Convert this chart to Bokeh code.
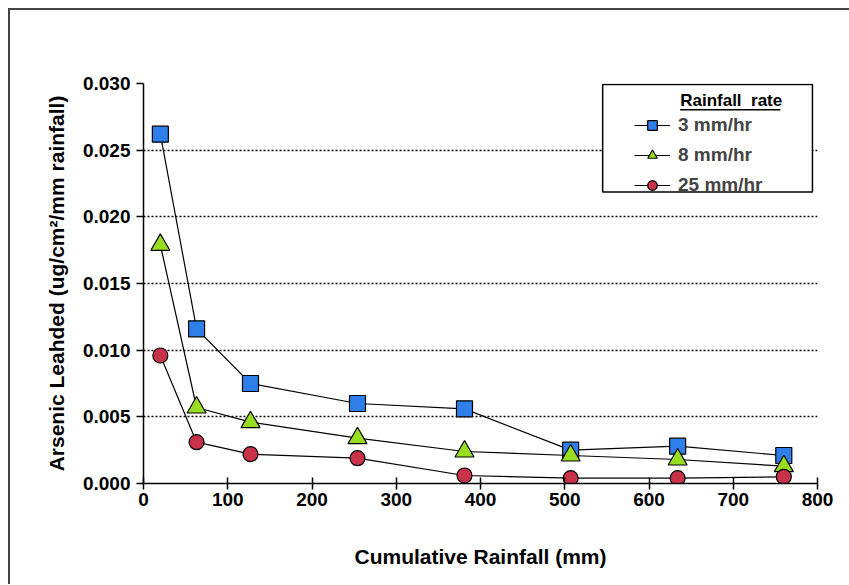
from bokeh.plotting import figure
from bokeh.models import (Range1d, Legend, LegendItem, BoxAnnotation, Label, FixedTicker,
                          CustomJSTickFormatter)
from bokeh.embed import file_html
from bokeh.resources import INLINE

# Data
rainfall_mm = [20, 63, 127, 254, 381, 507, 634, 760]
rate_3 = [0.0262, 0.0116, 0.0075, 0.0060, 0.0056, 0.0025, 0.0028, 0.0021]
rate_8 = [0.0179, 0.0057, 0.0046, 0.0034, 0.0024, 0.0021, 0.0018, 0.0013]
rate_25 = [0.0096, 0.0031, 0.0022, 0.0019, 0.0006, 0.0004, 0.0004, 0.0005]
series_names = ["3 mm/hr", "8 mm/hr", "25 mm/hr"]
y_ticks = [0.0, 0.005, 0.010, 0.015, 0.020, 0.025, 0.030]
x_ticks = [0, 100, 200, 300, 400, 500, 600, 700, 800]

FONT = "Liberation Sans"

p = figure(width=839, height=574, output_backend="svg", toolbar_location=None,
           x_range=Range1d(0, 800), y_range=Range1d(0, 0.030),
           min_border_left=133, min_border_right=34, min_border_top=73, min_border_bottom=103)
p.styles = {"margin-left": "8px", "margin-top": "8px", "box-sizing": "content-box",
            "border-top": "2px solid #444444", "border-left": "2px solid #444444",
            "border-right": "0px none", "border-bottom": "0px none",
            "outline": "none", "box-shadow": "none"}
p.outline_line_color = None
p.background_fill_color = "white"
p.border_fill_color = "white"

p.xgrid.visible = False
p.ygrid.grid_line_color = "black"
p.ygrid.grid_line_dash = "2 2"
p.ygrid.grid_line_width = 1.5
p.ygrid.ticker = FixedTicker(ticks=y_ticks)

p.yaxis.ticker = FixedTicker(ticks=y_ticks)
p.xaxis.ticker = FixedTicker(ticks=x_ticks)
p.yaxis.formatter = CustomJSTickFormatter(code="return tick.toFixed(3);")

for ax in (p.xaxis, p.yaxis):
    ax.axis_line_color = "black"
    ax.axis_line_width = 1.5
    ax.major_tick_line_color = "black"
    ax.major_tick_line_width = 1.5
    ax.minor_tick_line_color = None
    ax.major_label_text_font = FONT
    ax.major_label_text_font_style = "bold"
    ax.major_label_text_font_size = "19px"
    ax.major_label_text_color = "black"
    ax.axis_label_text_font = FONT
    ax.axis_label_text_font_style = "bold"
    ax.axis_label_text_font_size = "21px"
    ax.axis_label_text_color = "black"

p.xaxis.major_tick_in = 6
p.xaxis.major_tick_out = 6
p.yaxis.major_tick_in = 0
p.yaxis.major_tick_out = 7
p.xaxis.major_label_standoff = 3
p.yaxis.major_label_standoff = 6
p.xaxis.axis_label = "Cumulative Rainfall (mm)"
p.yaxis.axis_label = "Arsenic Leahded (ug/cm\u00b2/mm rainfall)"
p.xaxis.axis_label_standoff = 36
p.yaxis.axis_label_standoff = 12

styles = [
    (rate_3, "square", "#2F7FEA", 16),
    (rate_8, "triangle", "#99DD22", 19),
    (rate_25, "circle", "#C8334A", 15),
]
items = []
for (vals, marker, color, size), name in zip(styles, series_names):
    ln = p.line(rainfall_mm, vals, line_color="black", line_width=1.2)
    sc = p.scatter(rainfall_mm, vals, marker=marker, size=size, fill_color=color,
                   line_color="black", line_width=1.2)
    items.append(LegendItem(label=name, renderers=[ln, sc]))

# Legend frame
box = BoxAnnotation(left=545, right=794, top=0.02993, bottom=0.02186,
                    fill_color="white", fill_alpha=1.0, line_color="black",
                    line_alpha=1.0, line_width=1.5)
p.add_layout(box)

legend = Legend(items=items, location=(491, 286), padding=0, margin=0, spacing=6,
                glyph_width=36, glyph_height=24, label_height=24, label_standoff=8,
                label_text_font=FONT, label_text_font_style="bold", label_text_font_size="19px",
                border_line_alpha=0, background_fill_alpha=0)
p.add_layout(legend, "center")

title = Label(x=637, y=0.0287, text="Rainfall\u00a0\u00a0rate", text_font=FONT,
              text_font_style="bold", text_font_size="17px", text_align="left",
              text_baseline="alphabetic", text_color="black")
p.add_layout(title)
p.segment(x0=[637], y0=[0.02804], x1=[756], y1=[0.02804], line_color="black",
          line_width=1.5, level="overlay")

open("out.html", "w").write(file_html(p, INLINE))
